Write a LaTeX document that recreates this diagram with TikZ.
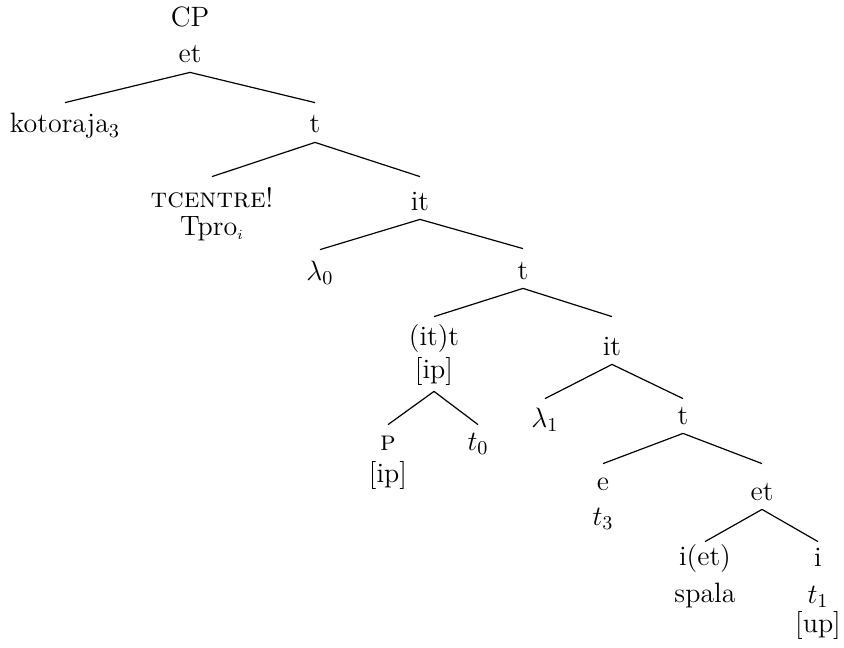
\RequirePackage{fix-cm}
\documentclass[tikz,border=0pt]{standalone}
\usepackage{fontspec}
\tikzset{
  lbl/.style={anchor=base, inner xsep=1pt, inner ysep=0pt, text height=15pt, text depth=4.5pt},
  txt/.style={anchor=base, inner sep=0pt},
  edge/.style={draw, line width=0.6pt}
}
\begin{document}
\begin{tikzpicture}[x=0.5pt, y=-0.5pt, font=\fontsize{14}{16}\selectfont]
\useasboundingbox (0,0) rectangle (844,647);
\node[txt] (cp) at (190,27) {CP};
\node[lbl] (et) at (190,63) {et};
\node[lbl] (kot) at (65,133) {kotoraja$_3$};
\node[lbl] (t1) at (315,133) {t};
\node[lbl] (tc) at (212,207) {\textsc{tcentre}!};
\node[txt] (tpro) at (212,235) {Tpro$_{\scriptscriptstyle i}$};
\node[lbl, text height=16.5pt] (it1) at (420,210) {it};
\node[lbl] (lam0) at (320,280) {$\lambda_0$};
\node[lbl] (t2) at (523,279) {t};
\node[lbl, text height=14pt] (itt) at (434,345) {(it)t};
\node[lbl, text depth=6.5pt] (ip1) at (434,378) {[ip]};
\node[lbl, text height=19pt] (it2) at (612,355) {it};
\node[lbl, text height=12.5pt] (p) at (388,450) {\textsc{p}};
\node[lbl, text height=12.5pt] (t0) at (478,450) {$t_0$};
\node[txt] (ip2) at (388,482) {[ip]};
\node[lbl, text height=14pt] (lam1) at (545,427) {$\lambda_1$};
\node[lbl, text height=12.5pt] (t3n) at (683,424) {t};
\node[lbl, text height=13pt] (e) at (603,490) {e};
\node[txt] (tt3) at (603,525) {$t_3$};
\node[lbl, text height=18pt] (et2) at (762,500) {et};
\node[lbl, text height=11.5pt] (iet) at (705,565) {i(et)};
\node[txt] (spala) at (705,602) {spala};
\node[lbl, text height=12pt] (i) at (818,566) {i};
\node[txt] (tt1) at (818,603) {$t_1$};
\node[txt] (up) at (818,632) {[up]};
\draw[edge] (et.south) -- (kot.north);
\draw[edge] (et.south) -- (t1.north);
\draw[edge] (t1.south) -- (tc.north);
\draw[edge] (t1.south) -- (it1.north);
\draw[edge] (it1.south) -- (lam0.north);
\draw[edge] (it1.south) -- (t2.north);
\draw[edge] (t2.south) -- (itt.north);
\draw[edge] (t2.south) -- (it2.north);
\draw[edge] (ip1.south) -- (p.north);
\draw[edge] (ip1.south) -- (t0.north);
\draw[edge] (it2.south) -- (lam1.north);
\draw[edge] (it2.south) -- (t3n.north);
\draw[edge] (t3n.south) -- (e.north);
\draw[edge] (t3n.south) -- (et2.north);
\draw[edge] (et2.south) -- (iet.north);
\draw[edge] (et2.south) -- (i.north);
\end{tikzpicture}
\end{document}
